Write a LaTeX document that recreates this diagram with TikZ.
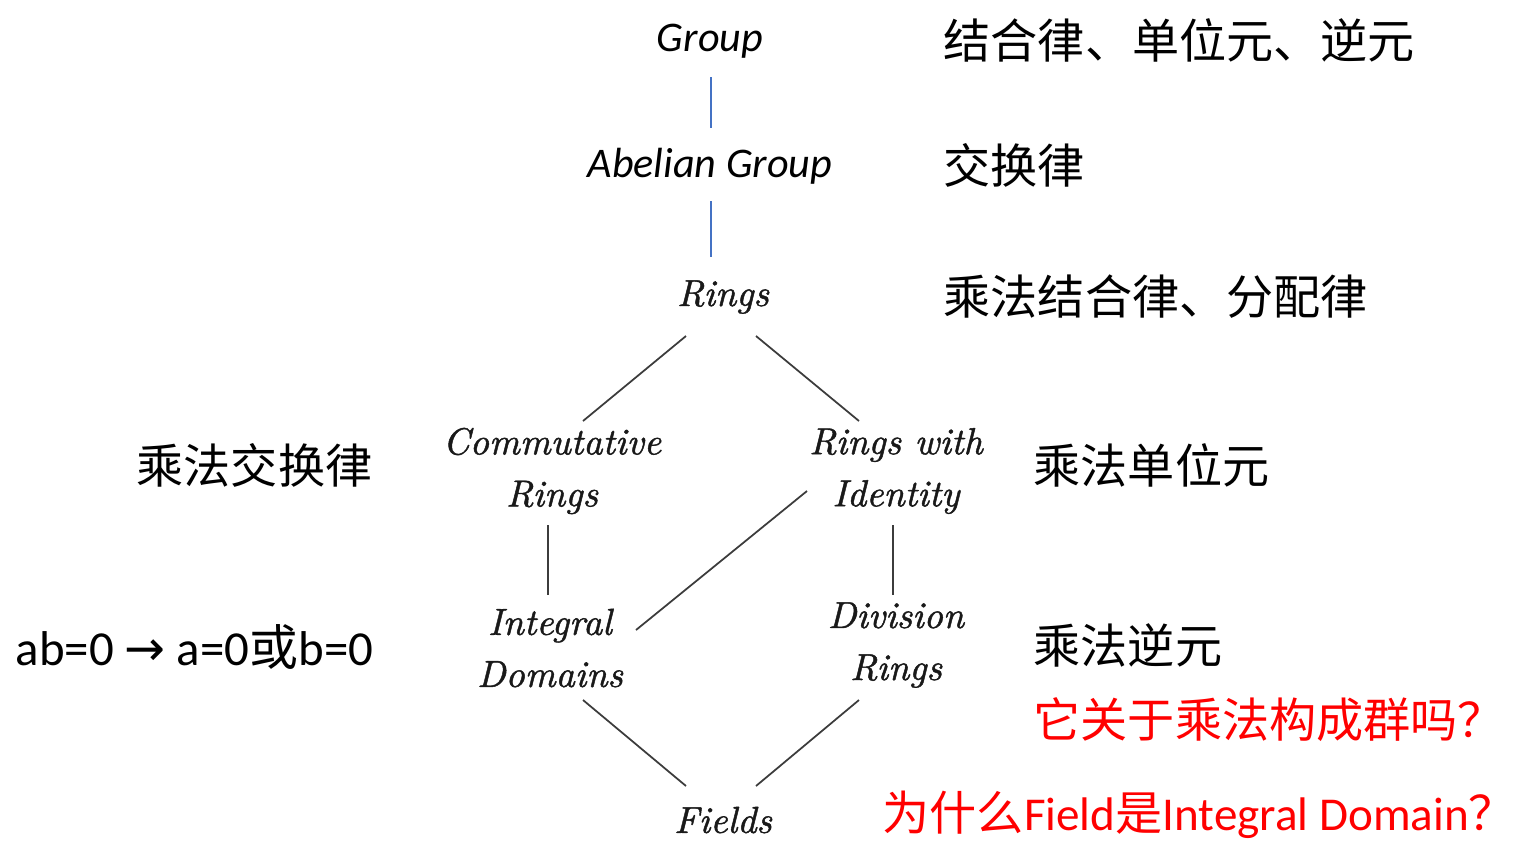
\documentclass[tikz,border=0pt]{standalone}
\usepackage{fontspec}
\newfontfamily\carlito{Carlito}
\newfontfamily\cjk{Noto Sans CJK SC}
\newfontfamily\dejavu{DejaVu Sans}
\newfontfamily\algfont{Latin Modern Roman}[FakeBold=1.2]
\usetikzlibrary{calc}
\definecolor{lineblue}{RGB}{68,114,196}
\definecolor{linegray}{RGB}{60,60,60}

\begin{document}
\begin{tikzpicture}[x=0.01cm, y=-0.01cm,
    alg/.style={align=center, inner sep=0pt, text=black!90, font=\fontsize{10.7}{14.8}\selectfont\algfont\itshape},
    sansit/.style={inner sep=0pt, font=\fontsize{12}{14}\selectfont\carlito\itshape},
    note/.style={anchor=west, inner sep=0pt, font=\fontsize{13.4}{16}\selectfont\cjk},
    redq/.style={note, text=red},
    grpline/.style={lineblue, line width=0.6pt},
    latline/.style={linegray, line width=0.5pt}]
    \useasboundingbox (0,0) rectangle (1517,844);

    % Group axioms
    \node[sansit] (grp) at (710,41) {Group};
    \node[sansit] (abel) at (710,166) {Abelian Group};
    \node[alg] (rings) at (723,297) {Rings};

    % Ring lattice
    \node[alg] (comm) at (552,471) {Commutative\\Rings};
    \node[alg] (ident) at (896,471) {Rings with\\Identity};
    \node[alg] (integ) at (550,648) {Integral\\Domains};
    \node[alg] (divis) at (896,645) {Division\\Rings};
    \node[alg] (fields) at (723,820) {Fields};

    % Connectors
    \draw[grpline] ($(grp)+(1,36)$) -- ($(abel)+(1,-38)$);
    \draw[grpline] ($(abel)+(1,35)$) -- ($(rings)+(-12,-40)$);
    \draw[latline] ($(rings)+(-37,39)$) -- ($(comm)+(31,-50)$);
    \draw[latline] ($(rings)+(33,39)$) -- ($(ident)+(-37,-50)$);
    \draw[latline] ($(comm)+(-4,54)$) -- ($(integ)+(-2,-53)$);
    \draw[latline] ($(ident)+(-3,54)$) -- ($(divis)+(-3,-50)$);
    \draw[latline] ($(ident)+(-89,20)$) -- ($(integ)+(86,-18)$);
    \draw[latline] ($(integ)+(33,52)$) -- ($(fields)+(-37,-34)$);
    \draw[latline] ($(divis)+(-37,55)$) -- ($(fields)+(33,-34)$);

    % Notes
    \node[note] (nGrp) at (943,40) {结合律、单位元、逆元};
    \node[note] (nAbel) at (943,165) {交换律};
    \node[note] (nRings) at (943,297) {乘法结合律、分配律};
    \node[note] (nComm) at (136,465) {乘法交换律};
    \node[note] (nIdent) at (1033,465) {乘法单位元};
    \node[note, font=\fontsize{13.9}{16}\selectfont\cjk] (nInteg) at (15,647)
        {{\carlito ab=0 }{\dejavu →}{\carlito{} a=0}或{\carlito b=0}};
    \node[note] (nDivis) at (1033,645) {乘法逆元};
    \node[redq] (qDivis) at (1033,720) {它关于乘法构成群吗？};
    \node[redq] (qField) at (882,815) {为什么{\carlito Field}是{\carlito Integral Domain}？};
\end{tikzpicture}
\end{document}
